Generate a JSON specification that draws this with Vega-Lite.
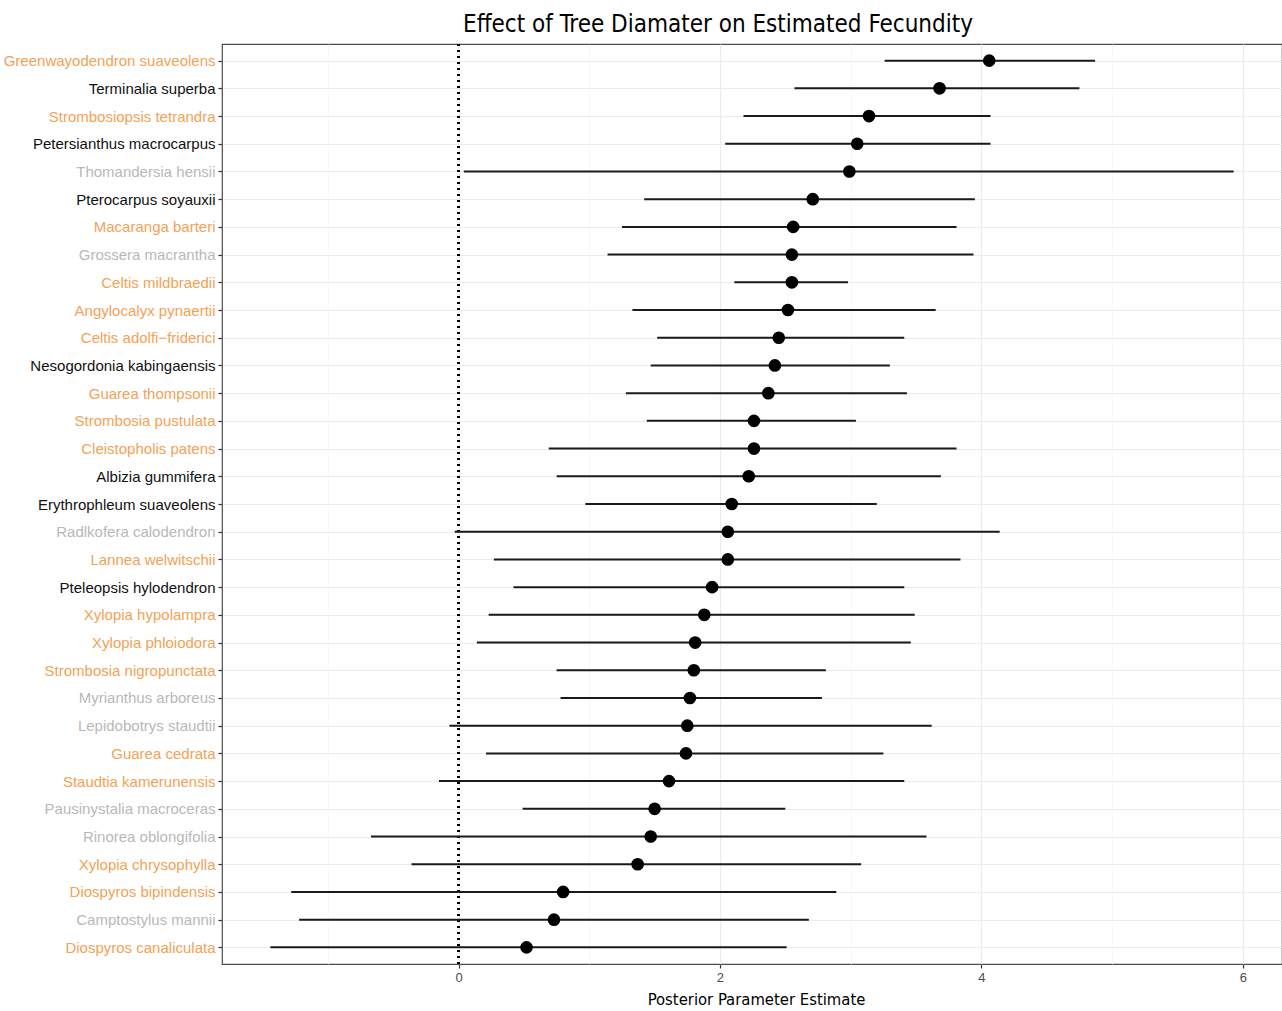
{
  "$schema": "https://vega.github.io/schema/vega-lite/v6.json",
  "autosize": "none",
  "padding": {"left": 222, "top": 44, "right": 0, "bottom": 47},
  "width": 1060,
  "height": 920,
  "background": "white",
  "title": {
    "text": "Effect of Tree Diamater on Estimated Fecundity",
    "font": "DejaVu Sans Condensed, Liberation Sans Narrow, Liberation Sans",
    "fontSize": 24,
    "fontWeight": "normal",
    "color": "#000000",
    "anchor": "middle",
    "dx": -34,
    "baseline": "alphabetic",
    "offset": 14,
    "dy": 27
  },
  "config": {
    "view": {"stroke": "#4d4d4d", "strokeWidth": 1.2},
    "axis": {"labelFont": "Liberation Sans, Arial", "titleFont": "DejaVu Sans Condensed, Liberation Sans Narrow, Liberation Sans"}
  },
  "data": {
    "values": [
      {"species": "Greenwayodendron suaveolens", "group": "orange", "est": 4.06, "low": 3.26, "high": 4.87},
      {"species": "Terminalia superba", "group": "black", "est": 3.68, "low": 2.57, "high": 4.75},
      {"species": "Strombosiopsis tetrandra", "group": "orange", "est": 3.14, "low": 2.18, "high": 4.07},
      {"species": "Petersianthus macrocarpus", "group": "black", "est": 3.05, "low": 2.04, "high": 4.07},
      {"species": "Thomandersia hensii", "group": "grey", "est": 2.99, "low": 0.04, "high": 5.93},
      {"species": "Pterocarpus soyauxii", "group": "black", "est": 2.71, "low": 1.42, "high": 3.95},
      {"species": "Macaranga barteri", "group": "orange", "est": 2.56, "low": 1.25, "high": 3.81},
      {"species": "Grossera macrantha", "group": "grey", "est": 2.55, "low": 1.14, "high": 3.94},
      {"species": "Celtis mildbraedii", "group": "orange", "est": 2.55, "low": 2.11, "high": 2.98},
      {"species": "Angylocalyx pynaertii", "group": "orange", "est": 2.52, "low": 1.33, "high": 3.65},
      {"species": "Celtis adolfi−friderici", "group": "orange", "est": 2.45, "low": 1.52, "high": 3.41},
      {"species": "Nesogordonia kabingaensis", "group": "black", "est": 2.42, "low": 1.47, "high": 3.30},
      {"species": "Guarea thompsonii", "group": "orange", "est": 2.37, "low": 1.28, "high": 3.43},
      {"species": "Strombosia pustulata", "group": "orange", "est": 2.26, "low": 1.44, "high": 3.04},
      {"species": "Cleistopholis patens", "group": "orange", "est": 2.26, "low": 0.69, "high": 3.81},
      {"species": "Albizia gummifera", "group": "black", "est": 2.22, "low": 0.75, "high": 3.69},
      {"species": "Erythrophleum suaveolens", "group": "black", "est": 2.09, "low": 0.97, "high": 3.20},
      {"species": "Radlkofera calodendron", "group": "grey", "est": 2.06, "low": -0.03, "high": 4.14},
      {"species": "Lannea welwitschii", "group": "orange", "est": 2.06, "low": 0.27, "high": 3.84},
      {"species": "Pteleopsis hylodendron", "group": "black", "est": 1.94, "low": 0.42, "high": 3.41},
      {"species": "Xylopia hypolampra", "group": "orange", "est": 1.88, "low": 0.23, "high": 3.49},
      {"species": "Xylopia phloiodora", "group": "orange", "est": 1.81, "low": 0.14, "high": 3.46},
      {"species": "Strombosia nigropunctata", "group": "orange", "est": 1.80, "low": 0.75, "high": 2.81},
      {"species": "Myrianthus arboreus", "group": "grey", "est": 1.77, "low": 0.78, "high": 2.78},
      {"species": "Lepidobotrys staudtii", "group": "grey", "est": 1.75, "low": -0.07, "high": 3.62},
      {"species": "Guarea cedrata", "group": "orange", "est": 1.74, "low": 0.21, "high": 3.25},
      {"species": "Staudtia kamerunensis", "group": "orange", "est": 1.61, "low": -0.15, "high": 3.41},
      {"species": "Pausinystalia macroceras", "group": "grey", "est": 1.50, "low": 0.49, "high": 2.50},
      {"species": "Rinorea oblongifolia", "group": "grey", "est": 1.47, "low": -0.67, "high": 3.58},
      {"species": "Xylopia chrysophylla", "group": "orange", "est": 1.37, "low": -0.36, "high": 3.08},
      {"species": "Diospyros bipindensis", "group": "orange", "est": 0.80, "low": -1.28, "high": 2.89},
      {"species": "Camptostylus mannii", "group": "grey", "est": 0.73, "low": -1.22, "high": 2.68},
      {"species": "Diospyros canaliculata", "group": "orange", "est": 0.52, "low": -1.44, "high": 2.51}
    ]
  },
  "encoding": {
    "y": {
      "field": "species",
      "type": "nominal",
      "sort": null,
      "scale": {"type": "point", "padding": 0.6},
      "axis": {
        "title": null,
        "domain": false,
        "grid": true,
        "gridColor": "#ebebeb",
        "gridWidth": 1,
        "ticks": true,
        "tickSize": 4,
        "tickColor": "#333333",
        "tickWidth": 1.2,
        "labelPadding": 3,
        "labelFontSize": 15,
        "labelLimit": 400,
        "labelColor": {
          "condition": [
            {"test": "indexof(['Greenwayodendron suaveolens','Strombosiopsis tetrandra','Macaranga barteri','Celtis mildbraedii','Angylocalyx pynaertii','Celtis adolfi−friderici','Guarea thompsonii','Strombosia pustulata','Cleistopholis patens','Lannea welwitschii','Xylopia hypolampra','Xylopia phloiodora','Strombosia nigropunctata','Guarea cedrata','Staudtia kamerunensis','Xylopia chrysophylla','Diospyros bipindensis','Diospyros canaliculata'], datum.value) >= 0", "value": "#f3a256"},
            {"test": "indexof(['Thomandersia hensii','Grossera macrantha','Radlkofera calodendron','Myrianthus arboreus','Lepidobotrys staudtii','Pausinystalia macroceras','Rinorea oblongifolia','Camptostylus mannii'], datum.value) >= 0", "value": "#b8b8b8"}
          ],
          "value": "#111111"
        }
      }
    }
  },
  "layer": [
    {
      "mark": {"type": "rule", "color": "#000000", "strokeWidth": 1.6, "strokeDash": [1.6, 4.4]},
      "encoding": {"x": {"datum": 0}, "y": null}
    },
    {
      "mark": {"type": "rule", "color": "#1a1a1a", "strokeWidth": 2},
      "encoding": {
        "x": {
          "field": "low",
          "type": "quantitative",
          "scale": {"domain": [-1.81, 6.3], "nice": false, "zero": false},
          "axis": {
            "title": "Posterior Parameter Estimate",
            "titleFontSize": 16.5,
            "titleFontWeight": "normal",
            "titleColor": "#000000",
            "titlePadding": 7,
            "titleX": 534,
            "values": [-1, 0, 1, 2, 3, 4, 5, 6],
            "labelExpr": "datum.value % 2 === 0 ? toString(datum.value) : ''",
            "labelFontSize": 13,
            "labelColor": "#4d4d4d",
            "labelPadding": 3,
            "domain": false,
            "tickSize": 4,
            "tickWidth": 1.2,
            "tickColor": "#333333",
            "tickOpacity": {"condition": {"test": "datum.value % 2 === 0", "value": 1}, "value": 0},
            "grid": true,
            "gridColor": {"condition": {"test": "datum.value % 2 === 0", "value": "#ebebeb"}, "value": "#f4f4f4"},
            "gridWidth": {"condition": {"test": "datum.value % 2 === 0", "value": 1.2}, "value": 0.7}
          }
        },
        "x2": {"field": "high"}
      }
    },
    {
      "mark": {"type": "point", "filled": true, "color": "#000000", "opacity": 1, "size": 160},
      "encoding": {"x": {"field": "est", "type": "quantitative"}}
    }
  ]
}
